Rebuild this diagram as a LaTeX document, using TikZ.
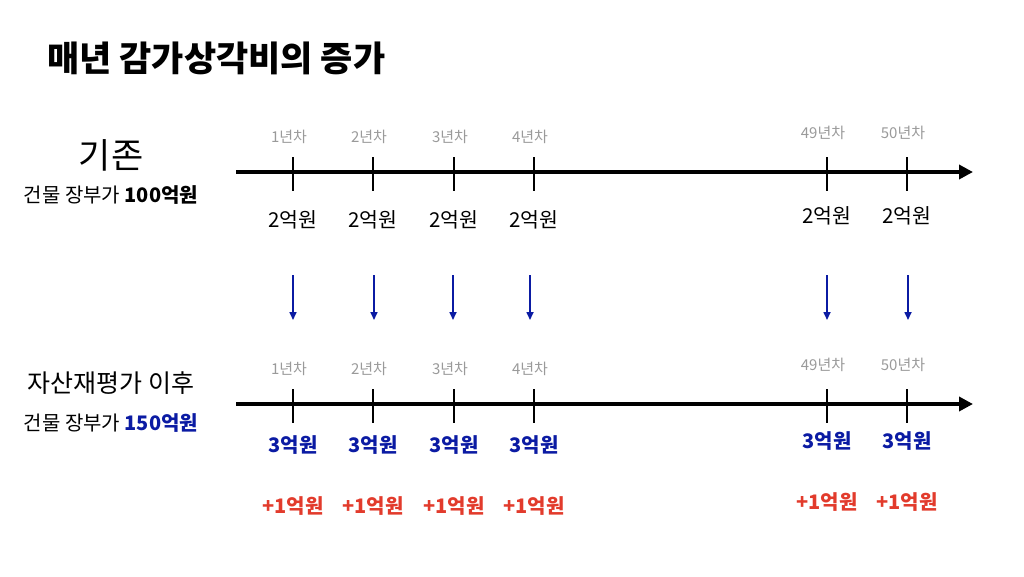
\documentclass[tikz,border=0pt]{standalone}
\usepackage{fontspec}
\setmainfont{Noto Sans CJK KR}
\usetikzlibrary{arrows.meta}
\definecolor{myblue}{HTML}{0B1BA3}
\definecolor{myred}{HTML}{E23B2C}
\definecolor{mygray}{HTML}{9A9A9A}
\tikzset{
  axis/.style={line width=3.6pt,-{Triangle[length=14pt,width=14pt]}},
  tick/.style={line width=2.4pt},
  yearlbl/.style={text=mygray,font=\fontsize{15}{17}\selectfont,inner sep=0pt},
  amt/.style={font=\fontsize{20.5}{24}\selectfont,inner sep=0pt},
  newamt/.style={text=myblue,font=\fontsize{20}{24}\selectfont\bfseries,inner sep=0pt},
  plus/.style={text=myred,font=\fontsize{20}{24}\selectfont\bfseries,inner sep=0pt},
  down/.style={myblue,line width=1.6pt,-{Triangle[length=8pt,width=7pt]}},
}
\begin{document}
\begin{tikzpicture}[x=1pt,y=-1pt]
\useasboundingbox (0,0) rectangle (1024,576);
% title
\node[anchor=west,inner sep=0pt,font=\fontsize{35}{40}\selectfont\bfseries] (title) at (47,58) {매년 감가상각비의 증가};
% left labels
\node[inner sep=0pt,font=\fontsize{35}{40}\selectfont] (old) at (111,155) {기존};
\node[inner sep=0pt,font=\fontsize{20}{24}\selectfont] (oldval) at (111,195) {건물 장부가 \textbf{100억원}};
\node[inner sep=0pt,font=\fontsize{25}{29}\selectfont] (new) at (111,383) {자산재평가 이후};
\node[inner sep=0pt,font=\fontsize{20}{24}\selectfont] (newval) at (111,423) {건물 장부가 \textbf{\textcolor{myblue}{150억원}}};
% axes
\coordinate (a1s) at (236,172); \coordinate (a1e) at (973,172);
\coordinate (a2s) at (236,404); \coordinate (a2e) at (973,404);
\draw[axis] (a1s) -- (a1e);
\draw[axis] (a2s) -- (a2e);
% ticks and labels
\foreach \i/\x/\yr/\dy in {1/293/1/0,2/373/2/0,3/454/3/0,4/534/4/0,5/827/49/-4,6/907/50/-4}{
  \coordinate (t1a\i) at (\x,157); \coordinate (t1b\i) at (\x,191);
  \coordinate (t2a\i) at (\x,389); \coordinate (t2b\i) at (\x,423);
  \draw[tick] (t1a\i) -- (t1b\i);
  \draw[tick] (t2a\i) -- (t2b\i);
  \node[yearlbl] (y1\i) at (\x-4,137+\dy) {\yr{}년차};
  \node[yearlbl] (y2\i) at (\x-4,369+\dy) {\yr{}년차};
  \node[amt] (m1\i) at (\x,220+\dy) {2억원};
  \node[newamt] (m2\i) at (\x,445+\dy) {3억원};
  \node[plus] (p\i) at (\x,506+\dy) {+1억원};
}
% down arrows
\foreach \i/\x in {1/293,2/374,3/453,4/530,5/827,6/908}{
  \coordinate (ds\i) at (\x,275); \coordinate (de\i) at (\x,320);
  \draw[down] (ds\i) -- (de\i);
}
\end{tikzpicture}
\end{document}
